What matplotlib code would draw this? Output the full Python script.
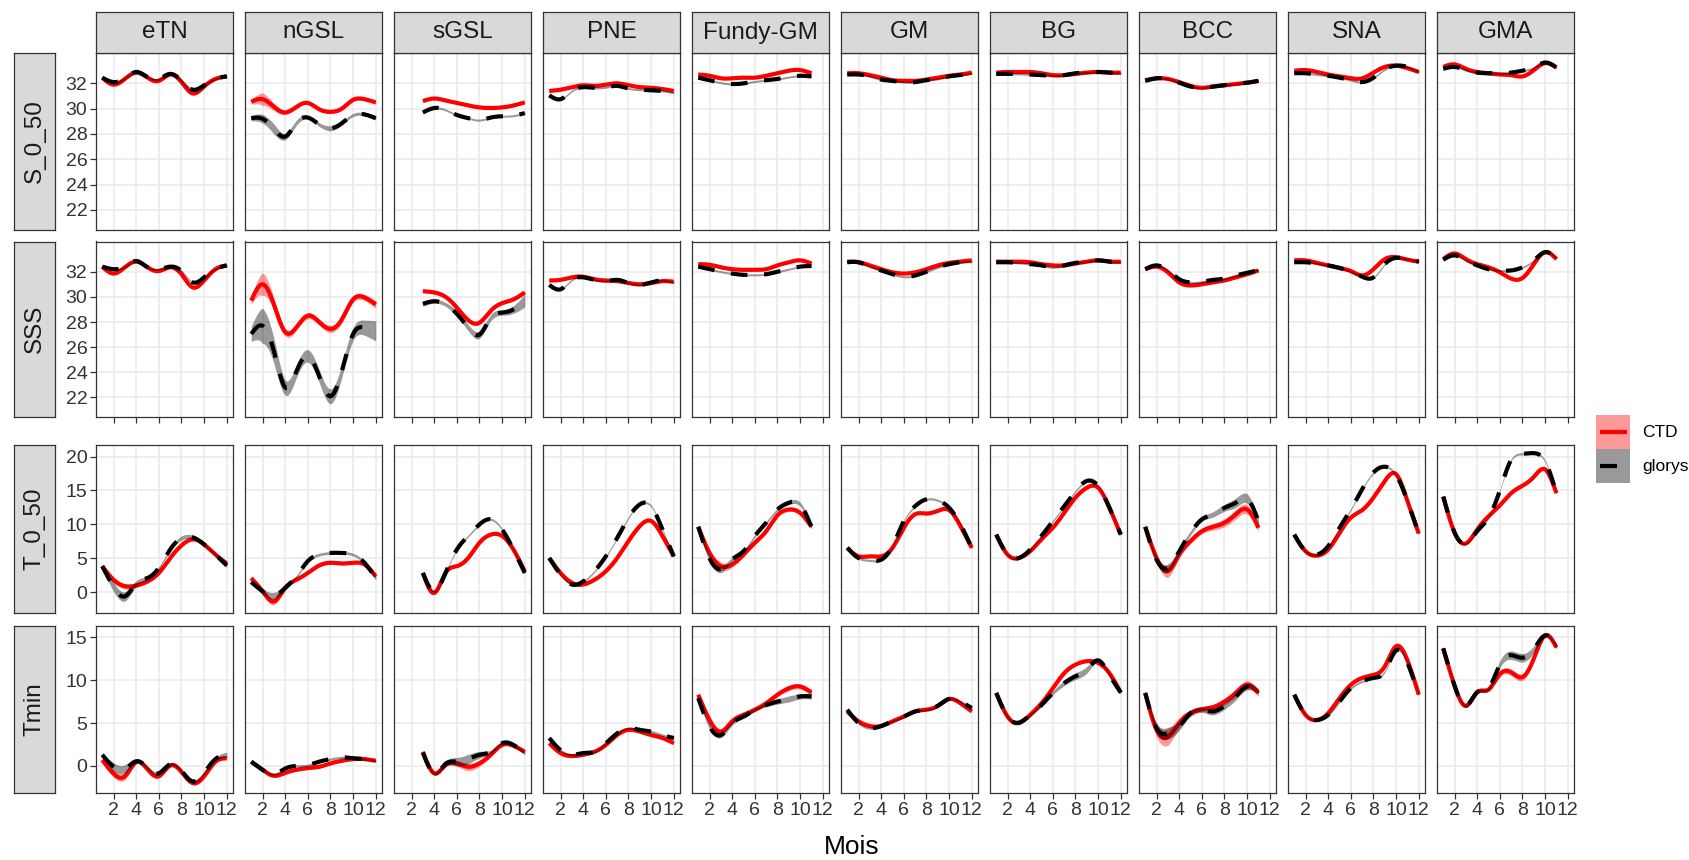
import numpy as np
import matplotlib
matplotlib.use("Agg")
import matplotlib.pyplot as plt
from matplotlib.patches import Rectangle
from matplotlib.lines import Line2D

plt.rcParams['font.family'] = ['Liberation Sans', 'DejaVu Sans']

regions = ["eTN", "nGSL", "sGSL", "PNE", "Fundy-GM", "GM", "BG", "BCC", "SNA", "GMA"]
variables = ["S_0_50", "SSS", "T_0_50", "Tmin"]
months = [1, 2, 3, 4, 5, 6, 7, 8, 9, 10, 11, 12]
series_names = ["CTD", "glorys"]
N = np.nan

# ---------------- S_0_50 ----------------
S_0_50_CTD = {
    "eTN": [32.45, 31.9, 32.35, 32.85, 32.45, 32.2, 32.7, 32.1, 31.2, 31.75, 32.35, 32.55],
    "nGSL": [30.55, 30.75, 30.15, 29.7, 30.15, 30.45, 29.95, 29.75, 30.0, 30.7, 30.75, 30.5],
    "sGSL": [N, N, 30.6, 30.8, 30.65, 30.45, 30.25, 30.1, 30.05, 30.1, 30.25, 30.5],
    "PNE": [31.4, 31.5, 31.7, 31.85, 31.8, 31.9, 32.0, 31.85, 31.7, 31.65, 31.55, 31.4],
    "Fundy-GM": [32.7, 32.6, 32.4, 32.4, 32.45, 32.45, 32.6, 32.8, 33.0, 33.05, 32.8, N],
    "GM": [32.8, 32.8, 32.65, 32.45, 32.25, 32.2, 32.2, 32.3, 32.45, 32.6, 32.7, 32.85],
    "BG": [32.85, 32.9, 32.9, 32.9, 32.8, 32.65, 32.65, 32.75, 32.85, 32.9, 32.85, 32.85],
    "BCC": [32.25, 32.4, 32.35, 32.1, 31.8, 31.65, 31.75, 31.85, 31.95, 32.05, 32.2, N],
    "SNA": [33.0, 33.05, 32.9, 32.7, 32.55, 32.4, 32.4, 32.85, 33.3, 33.4, 33.2, 32.9],
    "GMA": [33.3, 33.5, 33.15, 32.9, 32.8, 32.7, 32.65, 32.55, 33.05, 33.6, 33.25, N],
}
S_0_50_glorys = {
    "eTN": [32.45, 32.1, 32.4, 32.9, 32.5, 32.35, 32.75, 32.2, 31.5, 31.85, 32.35, 32.55],
    "nGSL": [29.25, 29.2, 28.4, 27.8, 28.9, 29.3, 28.75, 28.45, 28.85, 29.5, 29.55, 29.25],
    "sGSL": [N, N, 29.7, 30.05, 29.9, 29.5, 29.25, 29.1, 29.3, 29.4, 29.45, 29.65],
    "PNE": [31.05, 30.75, 31.4, 31.7, 31.65, 31.7, 31.8, 31.6, 31.5, 31.45, 31.4, 31.25],
    "Fundy-GM": [32.45, 32.25, 32.05, 31.95, 32.0, 32.15, 32.25, 32.35, 32.5, 32.6, 32.55, N],
    "GM": [32.7, 32.7, 32.55, 32.3, 32.2, 32.1, 32.1, 32.25, 32.35, 32.55, 32.65, 32.8],
    "BG": [32.75, 32.75, 32.75, 32.7, 32.65, 32.6, 32.65, 32.8, 32.85, 32.9, 32.85, 32.8],
    "BCC": [32.2, 32.4, 32.35, 32.05, 31.75, 31.65, 31.75, 31.85, 31.95, 32.05, 32.2, N],
    "SNA": [32.8, 32.8, 32.7, 32.6, 32.45, 32.25, 32.1, 32.45, 33.1, 33.4, 33.3, 32.9],
    "GMA": [33.15, 33.3, 33.05, 32.85, 32.8, 32.8, 32.85, 33.0, 33.25, 33.65, 33.25, N],
}
# ---------------- SSS ----------------
SSS_CTD = {
    "eTN": [32.4, 31.85, 32.35, 32.8, 32.35, 32.05, 32.35, 31.8, 30.75, 31.3, 32.2, 32.5],
    "nGSL": [29.7, 31.0, 29.4, 27.2, 27.6, 28.5, 28.0, 27.45, 28.2, 29.8, 29.95, 29.4],
    "sGSL": [N, N, 30.45, 30.35, 30.0, 29.15, 28.15, 27.95, 28.9, 29.5, 29.8, 30.35],
    "PNE": [31.3, 31.35, 31.55, 31.6, 31.4, 31.3, 31.25, 31.1, 31.0, 31.1, 31.25, 31.2],
    "Fundy-GM": [32.6, 32.55, 32.35, 32.2, 32.15, 32.15, 32.2, 32.5, 32.75, 32.9, 32.65, N],
    "GM": [32.8, 32.75, 32.5, 32.2, 31.95, 31.85, 31.95, 32.2, 32.5, 32.7, 32.8, 32.9],
    "BG": [32.8, 32.8, 32.8, 32.75, 32.6, 32.5, 32.5, 32.65, 32.8, 32.9, 32.8, 32.8],
    "BCC": [32.2, 32.4, 31.95, 31.15, 30.9, 31.0, 31.15, 31.3, 31.55, 31.8, 32.1, N],
    "SNA": [32.9, 32.9, 32.7, 32.5, 32.3, 32.05, 31.7, 32.2, 33.0, 33.15, 32.95, 32.8],
    "GMA": [33.0, 33.45, 33.0, 32.6, 32.35, 31.95, 31.45, 31.5, 32.6, 33.55, 33.0, N],
}
SSS_glorys = {
    "eTN": [32.4, 32.2, 32.4, 32.85, 32.35, 32.2, 32.4, 32.05, 31.15, 31.55, 32.2, 32.5],
    "nGSL": [27.05, 27.7, 25.7, 22.8, 24.1, 25.3, 23.7, 22.1, 24.1, 27.05, 27.55, 27.3],
    "sGSL": [N, N, 29.45, 29.65, 29.4, 28.65, 27.55, 27.0, 28.35, 28.75, 29.0, 29.7],
    "PNE": [30.95, 30.6, 31.35, 31.55, 31.35, 31.25, 31.35, 31.1, 30.95, 31.15, 31.3, 31.15],
    "Fundy-GM": [32.4, 32.2, 32.0, 31.85, 31.75, 31.75, 31.8, 32.0, 32.2, 32.4, 32.45, N],
    "GM": [32.75, 32.75, 32.4, 32.1, 31.8, 31.6, 31.7, 32.0, 32.35, 32.6, 32.75, 32.8],
    "BG": [32.75, 32.75, 32.7, 32.6, 32.5, 32.35, 32.5, 32.7, 32.8, 32.9, 32.8, 32.75],
    "BCC": [32.2, 32.5, 32.1, 31.4, 31.15, 31.2, 31.35, 31.45, 31.7, 31.9, 32.15, N],
    "SNA": [32.75, 32.75, 32.65, 32.5, 32.3, 32.0, 31.6, 31.55, 32.6, 33.1, 33.0, 32.8],
    "GMA": [32.95, 33.3, 32.9, 32.5, 32.2, 32.1, 32.1, 32.35, 32.9, 33.55, 33.1, N],
}
# ---------------- T_0_50 ----------------
T_0_50_CTD = {
    "eTN": [3.85, 1.85, 0.9, 1.0, 1.6, 2.85, 5.05, 6.9, 7.8, 7.05, 5.55, 4.25],
    "nGSL": [2.1, 0.15, -1.35, 0.65, 1.85, 2.85, 3.95, 4.35, 4.25, 4.35, 4.1, 2.35],
    "sGSL": [N, N, 2.85, -0.1, 2.85, 3.85, 5.05, 7.3, 8.5, 8.3, 6.3, 3.1],
    "PNE": [5.05, 2.85, 1.4, 1.15, 1.85, 3.1, 5.05, 7.55, 9.75, 10.5, 8.3, 5.3],
    "Fundy-GM": [9.65, 5.8, 3.85, 4.1, 5.55, 7.3, 9.0, 11.35, 12.2, 11.7, 9.65, N],
    "GM": [6.55, 5.3, 5.3, 5.3, 6.55, 9.5, 11.5, 11.6, 12.0, 12.1, 9.75, 6.55],
    "BG": [8.5, 5.55, 5.05, 6.05, 7.8, 9.5, 11.7, 13.95, 15.4, 15.4, 12.45, 8.5],
    "BCC": [9.65, 5.05, 3.1, 5.55, 7.55, 9.0, 9.65, 10.25, 11.5, 12.2, 9.5, N],
    "SNA": [8.5, 6.05, 5.4, 6.3, 8.75, 11.0, 12.1, 13.95, 16.4, 17.4, 13.45, 8.65],
    "GMA": [14.1, 8.8, 7.2, 9.25, 11.2, 12.8, 14.6, 15.7, 17.0, 18.1, 14.6, N],
}
T_0_50_glorys = {
    "eTN": [3.85, 0.8, -0.6, 1.3, 2.1, 3.6, 6.3, 8.0, 8.1, 7.05, 5.55, 3.95],
    "nGSL": [1.5, 0.15, -0.5, 0.65, 2.35, 4.6, 5.55, 5.8, 5.8, 5.55, 4.35, 2.1],
    "sGSL": [N, N, 2.85, 0.15, 2.85, 6.3, 8.3, 10.0, 10.75, 9.25, 6.3, 2.85],
    "PNE": [5.05, 2.6, 1.15, 1.6, 3.1, 5.3, 8.0, 11.0, 12.95, 12.7, 9.25, 5.3],
    "Fundy-GM": [9.65, 5.0, 3.4, 4.85, 6.05, 8.3, 10.25, 12.2, 13.2, 12.95, 9.65, N],
    "GM": [6.55, 5.05, 4.7, 4.8, 6.8, 10.5, 12.7, 13.7, 13.55, 12.45, 10.0, 6.55],
    "BG": [8.5, 5.55, 5.05, 6.3, 8.3, 10.5, 12.7, 14.9, 16.4, 15.65, 12.45, 8.5],
    "BCC": [9.65, 4.8, 3.6, 6.05, 8.75, 10.75, 11.5, 12.45, 13.2, 13.8, 10.5, N],
    "SNA": [8.5, 6.05, 5.55, 6.8, 9.5, 12.2, 15.2, 17.65, 18.5, 17.25, 13.45, 8.65],
    "GMA": [14.1, 8.8, 7.2, 9.0, 11.0, 15.0, 19.5, 20.4, 20.5, 19.3, 14.6, N],
}
# ---------------- Tmin ----------------
Tmin_CTD = {
    "eTN": [0.7, -0.9, -1.2, 0.45, -0.4, -1.2, 0.05, -0.7, -2.0, -1.2, 0.5, 0.9],
    "nGSL": [0.5, -0.45, -1.15, -0.8, -0.45, -0.25, -0.1, 0.3, 0.6, 0.8, 0.8, 0.6],
    "sGSL": [N, N, 1.65, -0.85, 0.1, 0.3, -0.1, 0.3, 1.3, 2.45, 2.35, 1.65],
    "PNE": [2.65, 1.5, 1.15, 1.3, 1.65, 2.45, 3.6, 4.2, 4.0, 3.6, 3.25, 2.65],
    "Fundy-GM": [8.3, 5.35, 4.0, 5.2, 5.95, 6.55, 7.3, 8.3, 9.05, 9.25, 8.55, N],
    "GM": [6.35, 5.2, 4.65, 4.65, 5.2, 5.75, 6.35, 6.55, 7.0, 7.8, 7.3, 6.35],
    "BG": [8.5, 5.75, 5.0, 5.95, 7.3, 9.05, 10.8, 11.8, 12.2, 12.0, 10.8, 8.55],
    "BCC": [8.5, 4.2, 3.4, 5.0, 6.15, 6.6, 6.85, 7.5, 8.5, 9.45, 8.5, N],
    "SNA": [8.3, 5.95, 5.35, 6.15, 7.9, 9.45, 10.25, 10.6, 11.6, 13.95, 12.3, 8.3],
    "GMA": [13.7, 9.35, 7.0, 8.6, 8.9, 10.7, 10.9, 10.35, 12.5, 15.2, 13.8, N],
}
Tmin_glorys = {
    "eTN": [1.3, -0.1, -0.35, 0.55, -0.2, -0.85, 0.2, -0.55, -1.8, -0.8, 0.8, 1.3],
    "nGSL": [0.5, -0.45, -0.95, -0.3, 0.0, 0.1, 0.5, 0.8, 1.0, 0.9, 0.8, 0.6],
    "sGSL": [N, N, 1.55, -0.85, 0.25, 0.5, 0.8, 1.3, 1.65, 2.65, 2.45, 1.5],
    "PNE": [3.25, 1.85, 1.3, 1.5, 1.65, 2.65, 3.8, 4.4, 4.2, 4.0, 3.6, 3.25],
    "Fundy-GM": [7.9, 4.6, 3.6, 5.0, 5.75, 6.55, 7.1, 7.5, 7.8, 8.1, 8.1, N],
    "GM": [6.55, 5.0, 4.4, 4.65, 5.2, 5.75, 6.35, 6.55, 7.0, 7.8, 7.5, 6.75],
    "BG": [8.5, 5.75, 5.05, 5.95, 7.1, 8.5, 9.65, 10.45, 11.2, 12.3, 10.6, 8.55],
    "BCC": [8.5, 4.4, 3.8, 4.65, 6.15, 6.55, 6.35, 7.0, 8.1, 9.25, 8.7, N],
    "SNA": [8.3, 5.95, 5.35, 5.95, 7.5, 9.05, 9.85, 10.25, 11.0, 13.45, 12.0, 8.3],
    "GMA": [13.7, 9.35, 7.0, 8.6, 9.0, 11.85, 12.9, 12.6, 13.6, 15.2, 13.9, N],
}

# confidence-band half widths (default per variable, plus visible wider bands)
se_default = {"S_0_50": 0.08, "SSS": 0.08, "T_0_50": 0.16, "Tmin": 0.13}
S_0_50_CTD_se = {"nGSL": [0.2, 0.5, 0.3, 0.15, 0.12, 0.1, 0.1, 0.12, 0.12, 0.12, 0.12, 0.15]}
S_0_50_glorys_se = {"nGSL": [0.2, 0.35, 0.4, 0.25, 0.2, 0.12, 0.15, 0.2, 0.15, 0.12, 0.12, 0.15],
                    "eTN": [0.08, 0.15, 0.08, 0.08, 0.08, 0.08, 0.08, 0.12, 0.15, 0.1, 0.08, 0.08]}
SSS_CTD_se = {"nGSL": [0.3, 0.9, 0.5, 0.3, 0.25, 0.25, 0.25, 0.3, 0.25, 0.25, 0.25, 0.3],
              "sGSL": [N, N, 0.12, 0.1, 0.1, 0.12, 0.15, 0.15, 0.12, 0.12, 0.12, 0.15]}
SSS_glorys_se = {"nGSL": [0.6, 1.4, 1.0, 0.6, 0.5, 0.5, 0.5, 0.6, 0.5, 0.5, 0.6, 0.8],
                 "sGSL": [N, N, 0.2, 0.15, 0.15, 0.2, 0.25, 0.3, 0.25, 0.2, 0.3, 0.5]}
T_0_50_CTD_se = {"nGSL": [0.3, 0.4, 0.5, 0.3, 0.2, 0.2, 0.2, 0.2, 0.2, 0.2, 0.2, 0.3],
                 "eTN": [0.3, 0.4, 0.4, 0.3, 0.2, 0.2, 0.2, 0.2, 0.2, 0.2, 0.2, 0.3],
                 "Fundy-GM": [0.3, 0.5, 0.6, 0.4, 0.3, 0.3, 0.3, 0.3, 0.3, 0.3, 0.3, N],
                 "BCC": [0.3, 0.6, 0.9, 0.5, 0.4, 0.4, 0.5, 0.6, 0.7, 0.7, 0.5, N]}
T_0_50_glorys_se = {"eTN": [0.3, 0.7, 0.7, 0.4, 0.2, 0.2, 0.2, 0.3, 0.3, 0.2, 0.2, 0.3],
                    "nGSL": [0.3, 0.4, 0.5, 0.3, 0.2, 0.2, 0.2, 0.2, 0.2, 0.2, 0.2, 0.3],
                    "Fundy-GM": [0.3, 0.5, 0.5, 0.3, 0.2, 0.2, 0.2, 0.2, 0.3, 0.3, 0.3, N],
                    "BCC": [0.3, 0.5, 0.6, 0.4, 0.3, 0.3, 0.4, 0.5, 0.7, 0.7, 0.5, N]}
Tmin_CTD_se = {"eTN": [0.2, 0.4, 0.4, 0.2, 0.2, 0.2, 0.2, 0.2, 0.2, 0.2, 0.2, 0.2],
               "sGSL": [N, N, 0.2, 0.2, 0.2, 0.35, 0.45, 0.35, 0.2, 0.2, 0.2, 0.2],
               "BCC": [0.3, 0.8, 1.0, 0.6, 0.4, 0.3, 0.3, 0.4, 0.5, 0.5, 0.4, N],
               "GMA": [0.2, 0.2, 0.2, 0.2, 0.2, 0.3, 0.4, 0.4, 0.3, 0.2, 0.2, N],
               "Fundy-GM": [0.2, 0.3, 0.3, 0.25, 0.2, 0.2, 0.2, 0.25, 0.3, 0.3, 0.3, N]}
Tmin_glorys_se = {"eTN": [0.2, 0.5, 0.5, 0.2, 0.2, 0.2, 0.2, 0.2, 0.2, 0.2, 0.2, 0.3],
                  "sGSL": [N, N, 0.2, 0.2, 0.3, 0.5, 0.55, 0.4, 0.2, 0.2, 0.2, 0.2],
                  "BCC": [0.3, 0.6, 0.7, 0.5, 0.3, 0.3, 0.4, 0.4, 0.4, 0.4, 0.3, N],
                  "GMA": [0.2, 0.2, 0.2, 0.2, 0.2, 0.4, 0.5, 0.5, 0.4, 0.2, 0.2, N],
                  "BG": [0.2, 0.2, 0.2, 0.2, 0.2, 0.2, 0.3, 0.4, 0.4, 0.2, 0.2, 0.2],
                  "Fundy-GM": [0.2, 0.3, 0.3, 0.25, 0.2, 0.2, 0.2, 0.3, 0.35, 0.3, 0.3, N]}

values = {"S_0_50": (S_0_50_CTD, S_0_50_glorys), "SSS": (SSS_CTD, SSS_glorys),
          "T_0_50": (T_0_50_CTD, T_0_50_glorys), "Tmin": (Tmin_CTD, Tmin_glorys)}
bands = {"S_0_50": (S_0_50_CTD_se, S_0_50_glorys_se), "SSS": (SSS_CTD_se, SSS_glorys_se),
         "T_0_50": (T_0_50_CTD_se, T_0_50_glorys_se), "Tmin": (Tmin_CTD_se, Tmin_glorys_se)}

y_ticks = {"S_0_50": [22, 24, 26, 28, 30, 32], "SSS": [22, 24, 26, 28, 30, 32],
           "T_0_50": [0, 5, 10, 15, 20], "Tmin": [0, 5, 10, 15]}
y_lims = {"S_0_50": (20.45, 34.4), "SSS": (20.45, 34.4), "T_0_50": (-3.05, 21.7), "Tmin": (-3.15, 16.3)}
x_ticks = [2, 4, 6, 8, 10, 12]


def natural_spline(x, y, xs):
    n = len(x)
    h = np.diff(x)
    A = np.zeros((n, n))
    b = np.zeros(n)
    A[0, 0] = A[-1, -1] = 1.0
    for i in range(1, n - 1):
        A[i, i - 1] = h[i - 1]
        A[i, i] = 2 * (h[i - 1] + h[i])
        A[i, i + 1] = h[i]
        b[i] = 3 * ((y[i + 1] - y[i]) / h[i] - (y[i] - y[i - 1]) / h[i - 1])
    c = np.linalg.solve(A, b)
    bb = (y[1:] - y[:-1]) / h - h * (2 * c[:-1] + c[1:]) / 3
    d = (c[1:] - c[:-1]) / (3 * h)
    idx = np.clip(np.searchsorted(x, xs) - 1, 0, n - 2)
    t = xs - x[idx]
    return y[idx] + bb[idx] * t + c[idx] * t ** 2 + d[idx] * t ** 3


def smooth(vals, se_vals):
    x = np.array(months, float)
    y = np.array(vals, float)
    m = ~np.isnan(y)
    xv, yv = x[m], y[m]
    xs = np.linspace(xv[0], xv[-1], 400)
    ys = natural_spline(xv, yv, xs)
    sv = np.array(se_vals, float)[m]
    s = np.interp(xs, xv, sv)
    return xs, ys, s


W, H = 1690, 860
fig = plt.figure(figsize=(W / 100, H / 100), dpi=100)

col_left = [96 + 149 * i for i in range(10)]
col_w = 137
row_top = [53, 241.5, 445, 626]
row_bot = [229.5, 417, 613, 793]

style = {
    "CTD": dict(color="#FF0000", ls="-", fill="#FF0000"),
    "glorys": dict(color="#000000", ls=(0, (4, 4)), fill="#000000"),
}
TXT = "#333333"
BORDER = "#333333"

for r, var in enumerate(variables):
    for c, reg in enumerate(regions):
        ax = fig.add_axes([col_left[c] / W, 1 - row_bot[r] / H, col_w / W, (row_bot[r] - row_top[r]) / H])
        ax.set_facecolor("white")
        ax.set_xlim(0.45, 12.55)
        ax.set_ylim(*y_lims[var])
        ax.set_xticks(x_ticks)
        ax.set_yticks(y_ticks[var])
        ax.set_axisbelow(True)
        ax.grid(True, color="#EBEBEB", lw=1.2)
        for sp in ax.spines.values():
            sp.set_color(BORDER)
            sp.set_linewidth(0.9)
        ax.tick_params(axis="both", length=4.2, width=0.9, color=BORDER, labelsize=14,
                       labelcolor=TXT, pad=2)
        if c != 0:
            ax.tick_params(axis="y", left=False, labelleft=False)
        if r in (0, 2):
            ax.tick_params(axis="x", bottom=False, labelbottom=False)
        if r == 1:
            ax.tick_params(axis="x", labelbottom=False)
        for k, name in enumerate(series_names):
            vals = values[var][k][reg]
            se_d = bands[var][k]
            se_vals = se_d.get(reg, [se_default[var]] * 12)
            xs, ys, s = smooth(vals, se_vals)
            st = style[name]
            ax.fill_between(xs, ys - s, ys + s, color=st["fill"], alpha=0.4, lw=0, zorder=2 + 2 * k)
            ax.plot(xs, ys, color=st["color"], ls=st["ls"], lw=3.0, solid_capstyle="butt",
                    dash_capstyle="butt", zorder=3 + 2 * k)

# column strips
for c, reg in enumerate(regions):
    sax = fig.add_axes([col_left[c] / W, 1 - 53 / H, col_w / W, 41 / H])
    sax.set_facecolor("#D9D9D9")
    sax.set_xticks([]); sax.set_yticks([])
    for sp in sax.spines.values():
        sp.set_color(BORDER); sp.set_linewidth(0.9)
    sax.text(0.5, 0.5, reg, ha="center", va="center", fontsize=17.5, color="#1A1A1A",
             transform=sax.transAxes)

# row strips (left)
for r, var in enumerate(variables):
    sax = fig.add_axes([14 / W, 1 - row_bot[r] / H, 41 / W, (row_bot[r] - row_top[r]) / H])
    sax.set_facecolor("#D9D9D9")
    sax.set_xticks([]); sax.set_yticks([])
    for sp in sax.spines.values():
        sp.set_color(BORDER); sp.set_linewidth(0.9)
    sax.text(0.5, 0.5, var, ha="center", va="center", fontsize=17.5, color="#1A1A1A",
             rotation=90, transform=sax.transAxes)

fig.text(852 / W, 1 - 847 / H, "Mois", ha="center", va="center", fontsize=19, color="black")

# legend (drawn as keys: band square + line sample)
tf = fig.transFigure
key_fill = {"CTD": "#FF0000", "glorys": "#000000"}
for k, name in enumerate(series_names):
    y0 = 415 + 34 * k
    fig.add_artist(Rectangle((1596 / W, 1 - (y0 + 34) / H), 34 / W, 34 / H, transform=tf,
                             facecolor=key_fill[name], alpha=0.4, lw=0))
    yc = 1 - (y0 + 17) / H
    if name == "CTD":
        ln = Line2D([1600 / W, 1627 / W], [yc, yc], transform=tf, color="#FF0000", lw=3.0,
                    solid_capstyle="butt")
    else:
        ln = Line2D([1600 / W, 1617 / W], [yc, yc], transform=tf, color="#000000", lw=3.0,
                    solid_capstyle="butt")
    fig.add_artist(ln)
    fig.text(1642 / W, yc, name, ha="left", va="center", fontsize=12.5, color="black")

fig.savefig("out.png", dpi=100, facecolor="white")
